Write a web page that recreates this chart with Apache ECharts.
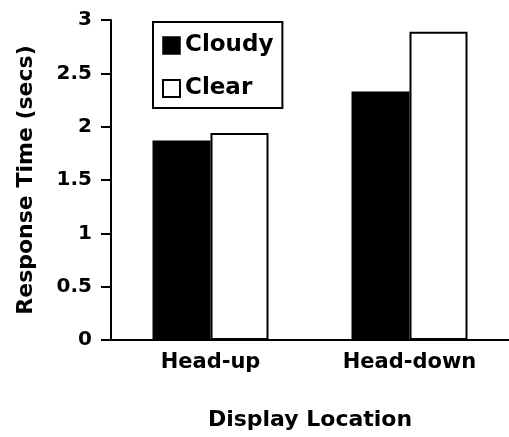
<!DOCTYPE html>
<html>
<head>
<meta charset="utf-8">
<script src="https://cdn.jsdelivr.net/npm/echarts@6/dist/echarts.min.js"></script>
<style>
html, body { margin: 0; padding: 0; background: #fff; }
#main { width: 509px; height: 437px; }
</style>
</head>
<body>
<div id="main"></div>
<script>
// data
var categories = ['Head-up', 'Head-down'];
var cloudy = [1.87, 2.33];
var clear = [1.94, 2.89];
var yTicks = { min: 0, max: 3, step: 0.5 };

var font = 'DejaVu Sans';
var chart = echarts.init(document.getElementById('main'));

chart.setOption({
  backgroundColor: '#fff',
  animation: false,
  textStyle: { fontFamily: font, fontWeight: 'bold', color: '#000' },
  grid: { left: 111, top: 20, width: 398, height: 320 },
  legend: {
    orient: 'vertical',
    left: 153,
    top: 22,
    padding: [12, 9, 8, 9],
    itemGap: 20,
    itemWidth: 17,
    itemHeight: 17,
    borderColor: '#000',
    borderWidth: 2,
    icon: 'rect',
    textStyle: { fontFamily: font, fontWeight: 'bold', fontSize: 23, color: '#000' },
    data: [
      { name: 'Cloudy', itemStyle: { color: '#000', borderColor: '#000', borderWidth: 1.5 } },
      { name: 'Clear', itemStyle: { color: '#fff', borderColor: '#000', borderWidth: 2 } }
    ]
  },
  xAxis: {
    type: 'category',
    data: categories,
    name: 'Display Location',
    nameLocation: 'middle',
    nameGap: 69,
    nameTextStyle: { fontFamily: font, fontWeight: 'bold', fontSize: 22, color: '#000' },
    axisLine: { lineStyle: { color: '#000', width: 2 } },
    axisTick: { show: false },
    axisLabel: { margin: 12, fontFamily: font, fontWeight: 'bold', fontSize: 21, color: '#000' }
  },
  yAxis: {
    type: 'value',
    min: yTicks.min,
    max: yTicks.max,
    interval: yTicks.step,
    name: 'Response Time (secs)',
    nameLocation: 'middle',
    nameGap: 74,
    nameTextStyle: { fontFamily: font, fontWeight: 'bold', fontSize: 22, color: '#000' },
    axisLine: { show: true, lineStyle: { color: '#000', width: 2 } },
    axisTick: { show: true, length: 10, lineStyle: { color: '#000', width: 2 } },
    axisLabel: { margin: 19, fontFamily: font, fontWeight: 'bold', fontSize: 20, color: '#000' },
    splitLine: { show: false }
  },
  series: [
    {
      name: 'Cloudy',
      type: 'bar',
      data: cloudy,
      barWidth: 58,
      barGap: 0,
      itemStyle: { color: '#000', borderColor: '#000', borderWidth: 2 }
    },
    {
      name: 'Clear',
      type: 'bar',
      data: clear,
      barWidth: 58,
      barGap: 0,
      itemStyle: { color: '#fff', borderColor: '#000', borderWidth: 2 }
    }
  ]
});
</script>
</body>
</html>
